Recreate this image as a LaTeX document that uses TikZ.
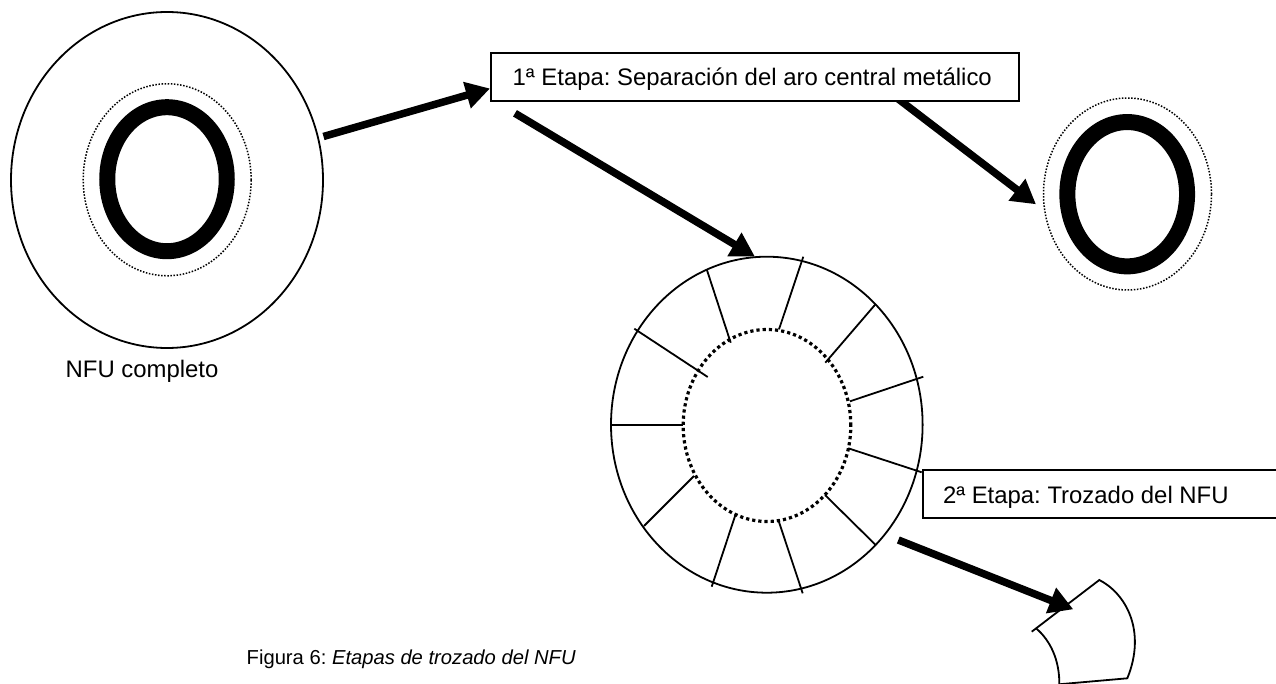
\documentclass[tikz,border=0pt]{standalone}
\usepackage{fontspec}
\setmainfont{Liberation Sans}
\usetikzlibrary{arrows.meta,shapes.geometric}
\tikzset{
  x=1pt,y=-1pt,
  outline/.style={draw=black,line width=1.8pt,ellipse,minimum width=0pt,inner sep=0pt,outer sep=0pt},
  bead/.style={draw=black,line width=16pt,ellipse,inner sep=0pt,outer sep=0pt},
  thindots/.style={draw=black,line width=1.5pt,ellipse,inner sep=0pt,outer sep=0pt,dash pattern=on 1.5pt off 1.6pt},
  thickdots/.style={draw=black,line width=3.2pt,ellipse,inner sep=0pt,outer sep=0pt,dash pattern=on 3.2pt off 3pt},
  bigarrow/.style={line width=7.5pt,-{Triangle[length=24pt,width=26pt]}},
  stagebox/.style={draw=black,line width=1.8pt,fill=white,inner sep=0pt,outer sep=0pt,anchor=north west},
  label/.style={inner sep=0pt,outer sep=0pt,anchor=base west,font=\fontsize{23.9}{26}\selectfont\frenchspacing},
  captiontext/.style={inner sep=0pt,outer sep=0pt,anchor=base west,font=\fontsize{20.2}{24}\selectfont\frenchspacing},
  spoke/.style={line width=1.8pt},
  cut/.style={line width=1.8pt,line join=miter}
}
\begin{document}
\begin{tikzpicture}
\useasboundingbox (0,0) rectangle (1276,684);
\clip (0,0) rectangle (1276,684);
% complete tyre
\node[outline,minimum width=312pt,minimum height=336pt] (tyre) at (167,180) {};
\node[thindots,minimum width=168pt,minimum height=192pt] (tyredots) at (167.2,179.8) {};
\node[bead,minimum width=119.5pt,minimum height=144pt] (tyrebead) at (167,179.2) {};
\node[label] (tyrelabel) at (65.7,377.7) {NFU completo};
% separated bead
\node[thindots,minimum width=168pt,minimum height=192pt] (sepdots) at (1127.5,194) {};
\node[bead,minimum width=119.7pt,minimum height=144.3pt] (sepbead) at (1127.2,194.2) {};
% cut ring
\node[outline,minimum width=311.6pt,minimum height=336pt] (ring) at (766.8,424.7) {};
\node[thickdots,minimum width=167.6pt,minimum height=192pt] (hole) at (767,425.5) {};
\draw[spoke] (706.7,269.3) -- (730.7,342.7);
\draw[spoke] (803.3,256.7) -- (779,329.3);
\draw[spoke] (875.7,304) -- (825.3,362.7);
\draw[spoke] (923.3,376.7) -- (850,401.3);
\draw[spoke] (921.7,472.3) -- (848.3,448.3);
\draw[spoke] (875.7,545) -- (825,495);
\draw[spoke] (802.7,593.3) -- (778.3,520);
\draw[spoke] (711.7,586.7) -- (735.7,514);
\draw[spoke] (644,526) -- (694,476);
\draw[spoke] (611,424.7) -- (682.7,424.7);
\draw[spoke] (634.3,328.7) -- (707.7,377);
% arrows under the boxes
\coordinate (a1s) at (323.5,136.5);
\coordinate (a1e) at (490,88.5);
\coordinate (a2s) at (515,113.3);
\coordinate (a2e) at (755,256.7);
\coordinate (a3s) at (897,98);
\coordinate (a3e) at (1036,204.3);
\coordinate (a4s) at (898.3,540);
\coordinate (a4e) at (1073.3,609.3);
% fragment
\coordinate (f1) at (1031.7,631.7);
\coordinate (f2) at (1099.3,580);
\coordinate (f3) at (1127.3,678.3);
\coordinate (f4) at (1060,684.2);
\coordinate (f5) at (1036,628.3);
\coordinate (f6) at (1059.3,686);
\draw[cut] (f1) -- (f2) .. controls (1125,593) and (1147,630) .. (f3) -- (f4);
\draw[cut] (f5) .. controls (1050,640) and (1060,660) .. (f6);
\draw[bigarrow] (a3s) -- (a3e);
\node[stagebox,minimum width=528.6pt,minimum height=48.3pt] (box1) at (490.7,52.7) {};
\node[stagebox,minimum width=370pt,minimum height=48pt] (box2) at (922.7,470) {};
\draw[bigarrow] (a1s) -- (a1e);
\draw[bigarrow] (a2s) -- (a2e);
\draw[bigarrow] (a4s) -- (a4e);
\node[label] (box1text) at (512.7,86) {1ª Etapa: Separación del aro central metálico};
\node[label] (box2text) at (943,503) {2ª Etapa: Trozado del NFU};
\node[captiontext] (caption) at (246.7,664) {Figura 6: \textit{Etapas de trozado del NFU}};
\end{tikzpicture}
\end{document}
